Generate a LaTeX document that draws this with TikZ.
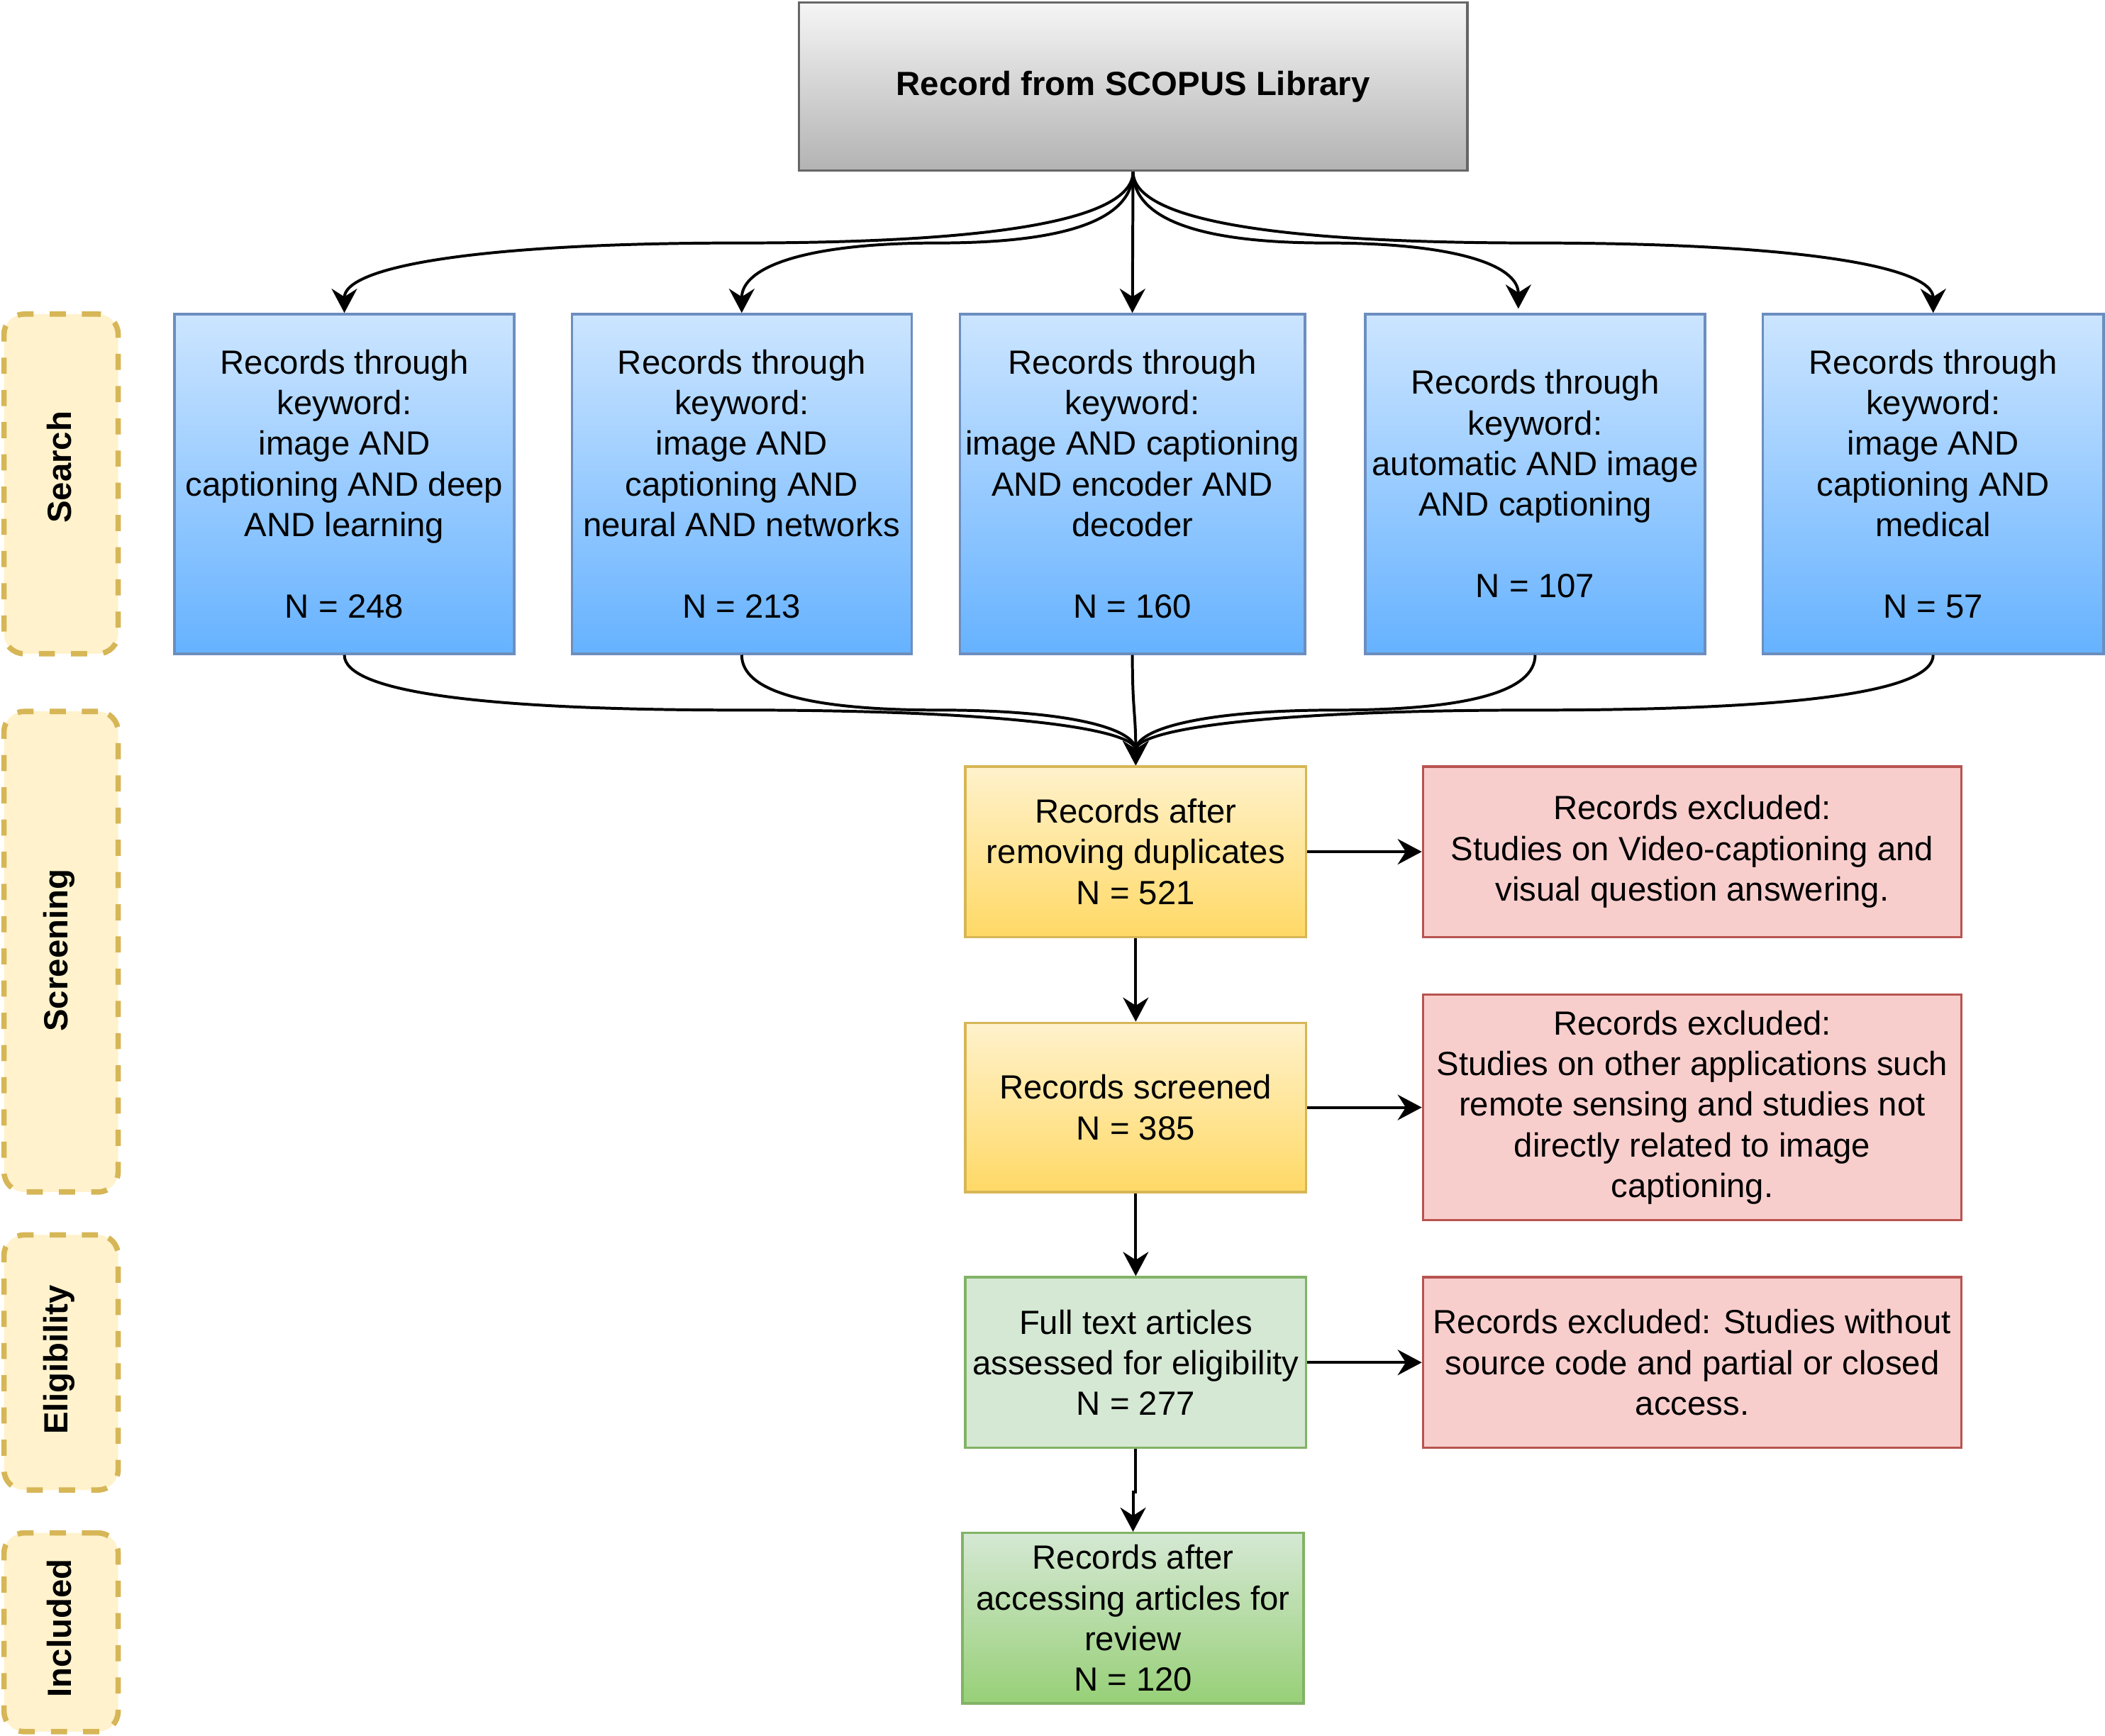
\documentclass[tikz,border=0pt]{standalone}
\usepackage{fontspec}
\setmainfont{Liberation Sans}
\usetikzlibrary{arrows.meta}
\definecolor{bluetop}{HTML}{CCE5FF}
\definecolor{bluebot}{HTML}{66B2FF}
\definecolor{blueline}{HTML}{6C8EBF}
\definecolor{yeltop}{HTML}{FFF2CC}
\definecolor{yelbot}{HTML}{FFD966}
\definecolor{yelline}{HTML}{D6B656}
\definecolor{grntop}{HTML}{D5E8D4}
\definecolor{grnbot}{HTML}{97D077}
\definecolor{grnline}{HTML}{82B366}
\definecolor{redfill}{HTML}{F8CECC}
\definecolor{redline}{HTML}{B85450}
\definecolor{graytop}{HTML}{F5F5F5}
\definecolor{graybot}{HTML}{B3B3B3}
\definecolor{grayline}{HTML}{666666}
\begin{document}
\begin{tikzpicture}[x=1pt,y=-1pt,
  font=\fontsize{25}{30.3}\selectfont,
  boxbase/.style={rectangle, draw, line width=1.8pt, inner sep=0pt, align=center},
  titlebox/.style={boxbase, draw=grayline, top color=graytop, bottom color=graybot,
    minimum width=498pt, minimum height=125pt, font=\fontsize{25}{30.3}\selectfont\bfseries},
  bluebox/.style={boxbase, draw=blueline, top color=bluetop, bottom color=bluebot,
    minimum width=253pt, minimum height=253pt},
  yelbox/.style={boxbase, draw=yelline, top color=yeltop, bottom color=yelbot,
    minimum width=254pt, minimum height=127pt},
  grnbox/.style={boxbase, draw=grnline, fill=grntop,
    minimum width=254pt, minimum height=127pt},
  grnshade/.style={boxbase, draw=grnline, top color=grntop, bottom color=grnbot,
    minimum width=254pt, minimum height=127pt},
  redbox/.style={boxbase, draw=redline, fill=redfill,
    minimum width=401pt, minimum height=127pt},
  lanebox/.style={draw=yelline, fill=yeltop, line width=4pt,
    dash pattern=on 12pt off 12pt, rounded corners=15pt,
    minimum width=85pt, inner sep=0pt},
  lanetext/.style={rotate=90, font=\fontsize{25}{30.3}\selectfont\bfseries, inner sep=0pt},
  arr/.style={line width=2.1pt, -{Stealth[length=18pt, width=19pt, inset=6pt]}}
]
\useasboundingbox (0,0) rectangle (1568,1293);

% phase lanes
\node[lanebox, minimum height=253pt] (L1) at (45.5,360.5) {};
\node[lanebox, minimum height=358pt] (L2) at (45.5,709) {};
\node[lanebox, minimum height=190pt] (L3) at (45.5,1015) {};
\node[lanebox, minimum height=148pt] (L4) at (45.5,1216) {};
\node[lanetext] (t1) at (44,348) {Search};
\node[lanetext] (t2) at (44,708) {Screening};
\node[lanetext] (t3) at (44,1013) {Eligibility};
\node[lanetext] (t4) at (44,1213) {Included};

% title
\node[titlebox] (T) at (844,64.5) {Record from SCOPUS Library};

% search boxes
\node[bluebox] (B1) at (256.5,360.5) {Records through\\keyword:\\image AND\\captioning AND deep\\AND learning\\[30.3pt]N = 248};
\node[bluebox] (B2) at (552.5,360.5) {Records through\\keyword:\\image AND\\captioning AND\\neural AND networks\\[30.3pt]N = 213};
\node[bluebox, minimum width=257pt] (B3) at (843.5,360.5) {Records through\\keyword:\\image AND captioning\\AND encoder AND\\decoder\\[30.3pt]N = 160};
\node[bluebox] (B4) at (1143.5,360.5) {Records through\\keyword:\\automatic AND image\\AND captioning\\[30.3pt]N = 107};
\node[bluebox, minimum width=254pt] (B5) at (1440,360.5) {Records through\\keyword:\\image AND\\captioning AND\\medical\\[30.3pt]N = 57};
\coordinate (B4in) at (1131,230);

% screening / eligibility / included
\node[yelbox] (Y1) at (846,634.5) {Records after\\removing duplicates\\N = 521};
\node[yelbox, minimum height=126pt] (Y2) at (846,825) {Records screened\\N = 385};
\node[grnbox] (G1) at (846,1015) {Full text articles\\assessed for eligibility\\N = 277};
\node[grnshade] (G2) at (844,1205.5) {Records after\\accessing articles for\\review\\N = 120};

\node[redbox] (R1) at (1260.5,634.5) {Records excluded:\\Studies on Video-captioning and\\visual question answering.};
\node[redbox, minimum height=168pt] (R2) at (1260.5,825) {Records excluded:\\Studies on other applications such\\remote sensing and studies not\\directly related to image\\captioning.};
\node[redbox] (R3) at (1260.5,1015) {Records excluded: Studies without\\source code and partial or closed\\access.};

% title to search boxes
\draw[arr] (T.south) .. controls (844,163) and (747,181) .. (551,181)
  .. controls (355,181) and (256.5,198.7) .. (B1.north);
\draw[arr] (T.south) .. controls (844,163) and (796.2,181) .. (698.5,181)
  .. controls (600.8,181) and (552.5,198.7) .. (B2.north);
\draw[arr] (T.south) -- (B3.north);
\draw[arr] (T.south) .. controls (844,163) and (892.7,181) .. (988,181)
  .. controls (1083.3,181) and (1131,197.3) .. (B4in);
\draw[arr] (T.south) .. controls (844,163) and (944.2,181) .. (1142.5,181)
  .. controls (1340.8,181) and (1440,198.7) .. (B5.north);

% search boxes to first screening box
\draw[arr] (B1.south) .. controls (256.5,515) and (355.3,529) .. (552,529)
  .. controls (748.7,529) and (846,543) .. (Y1.north);
\draw[arr] (B2.south) .. controls (552.5,515) and (601.2,529) .. (699.5,529)
  .. controls (797.8,529) and (846,543) .. (Y1.north);
\draw[arr] (B3.south) .. controls (843.5,530) and (846,530) .. (Y1.north);
\draw[arr] (B4.south) .. controls (1143.5,515) and (1093.7,529) .. (995,529)
  .. controls (896.3,529) and (846,543) .. (Y1.north);
\draw[arr] (B5.south) .. controls (1440,515) and (1341.2,529) .. (1143.5,529)
  .. controls (945.8,529) and (846,543) .. (Y1.north);

% flow
\draw[arr] (Y1.south) -- (Y2.north);
\draw[arr] (Y2.south) -- (G1.north);
\draw[arr] (G1.south) -- ++(0,32) -| (G2.north);
\draw[arr] (Y1.east) -- (R1.west);
\draw[arr] (Y2.east) -- (R2.west);
\draw[arr] (G1.east) -- (R3.west);
\end{tikzpicture}
\end{document}
